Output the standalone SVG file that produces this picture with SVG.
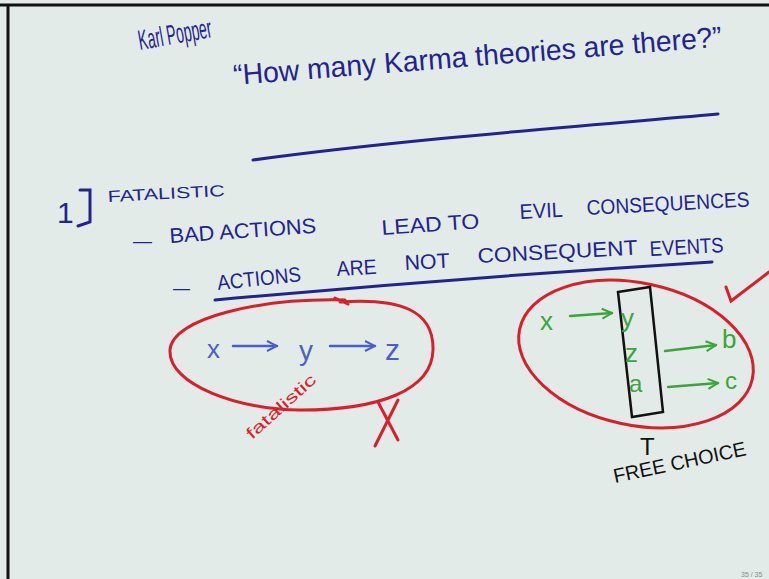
<svg xmlns="http://www.w3.org/2000/svg" width="769" height="579" viewBox="0 0 769 579">
<style>
.ink{font-family:"Liberation Sans","DejaVu Sans",sans-serif;fill:#23238f}
.pt{font-family:"Liberation Sans","DejaVu Sans",sans-serif;fill:#23238f;font-size:21px}
.hw{font-family:"Liberation Sans","DejaVu Sans",sans-serif}
.red{fill:none;stroke:#d91f2b;stroke-width:3;stroke-linecap:round}
.blue{fill:none;stroke:#23238f;stroke-width:3;stroke-linecap:round}
.lb{fill:none;stroke:#4a5ec8;stroke-width:2.5;stroke-linecap:round}
.gr{fill:none;stroke:#3aa53a;stroke-width:2.5;stroke-linecap:round}
</style>
<defs>
<marker id="ab" viewBox="0 0 10 10" refX="9" refY="5" markerWidth="5" markerHeight="5" orient="auto" markerUnits="strokeWidth"><path d="M1 1 L9 5 L1 9" fill="none" stroke="#4a5ec8" stroke-width="1.6"/></marker>
<marker id="ag" viewBox="0 0 10 10" refX="9" refY="5" markerWidth="5" markerHeight="5" orient="auto" markerUnits="strokeWidth"><path d="M1 1 L9 5 L1 9" fill="none" stroke="#3aa53a" stroke-width="1.6"/></marker>
</defs>
<rect x="0" y="0" width="769" height="579" fill="#e2ebe7"/>
<path d="M0 5 H769 M8 5 V579" stroke="#111" stroke-width="3" fill="none"/>

<g id="author"><text class="ink" x="140" y="50" font-size="28" textLength="74" lengthAdjust="spacingAndGlyphs" transform="rotate(-10 140 50)">Karl Popper</text></g>
<g id="title"><text class="ink" x="234" y="85" font-size="29" textLength="490" lengthAdjust="spacingAndGlyphs" transform="rotate(-4.5 234 85)">“How many Karma theories are there?”</text>
<path class="blue" d="M253 160 C400 140 560 128 718 114"/></g>

<g id="heading"><text class="ink" x="57" y="223" font-size="30">1</text><path class="blue" d="M80 190 L90 190 L90 222 L78 226" stroke-width="2.5"/>
<text class="ink" x="108" y="202" font-size="16" textLength="117" lengthAdjust="spacingAndGlyphs" transform="rotate(-3 108 202)">FATALISTIC</text></g>

<g id="point1">
<text class="pt" x="133" y="248" textLength="19" lengthAdjust="spacingAndGlyphs">—</text>
<text class="pt" x="170" y="243" textLength="147" lengthAdjust="spacingAndGlyphs" transform="rotate(-4 170 243)">BAD ACTIONS</text>
<text class="pt" x="382" y="235" textLength="98" lengthAdjust="spacingAndGlyphs" transform="rotate(-4 382 235)">LEAD TO</text>
<text class="pt" x="520" y="219" textLength="43" lengthAdjust="spacingAndGlyphs" transform="rotate(-3 520 219)">EVIL</text>
<text class="pt" x="587" y="215" textLength="163" lengthAdjust="spacingAndGlyphs" transform="rotate(-3 587 215)">CONSEQUENCES</text>
</g>
<g id="point2">
<text class="pt" x="173" y="295" textLength="17" lengthAdjust="spacingAndGlyphs">—</text>
<text class="pt" x="218" y="290" textLength="84" lengthAdjust="spacingAndGlyphs" transform="rotate(-6 218 290)">ACTIONS</text>
<text class="pt" x="337" y="276" textLength="40" lengthAdjust="spacingAndGlyphs" transform="rotate(-3 337 276)">ARE</text>
<text class="pt" x="405" y="270" textLength="45" lengthAdjust="spacingAndGlyphs" transform="rotate(-3 405 270)">NOT</text>
<text class="pt" x="478" y="263" textLength="160" lengthAdjust="spacingAndGlyphs" transform="rotate(-3 478 263)">CONSEQUENT</text>
<text class="pt" x="650" y="256" textLength="74" lengthAdjust="spacingAndGlyphs" transform="rotate(-3 650 256)">EVENTS</text>
<path class="blue" d="M215 300 C380 285 550 272 712 262"/></g>

<g id="fatalistic-loop">
<path class="red" d="M345 300 C260 298 172 318 170 350 C168 385 240 410 300 410 C380 410 432 390 433 350 C434 310 400 298 340 302 M335 298 L348 304"/>
<text class="hw" x="207" y="358" font-size="26" fill="#4a5ec8">x</text>
<text class="hw" x="299" y="360" font-size="28" fill="#4a5ec8">y</text>
<text class="hw" x="385" y="360" font-size="30" fill="#4a5ec8">z</text>
<text class="hw" x="252" y="440" font-size="16" fill="#d91f2b" textLength="88" lengthAdjust="spacingAndGlyphs" transform="rotate(-42 252 440)">fatalistic</text>
<path class="red" d="M378 402 L398 440 M398 400 L375 446"/>
</g>

<g id="freechoice-loop">
<ellipse class="red" cx="636" cy="354" rx="119" ry="71" transform="rotate(12 636 354)"/>
<path d="M618 292 L650 287 L663 412 L632 417 Z" fill="none" stroke="#111" stroke-width="2.5"/>
<text class="hw" x="540" y="330" font-size="26" fill="#3aa53a">x</text>
<text class="hw" x="621" y="327" font-size="26" fill="#3aa53a">y</text>
<text class="hw" x="625" y="362" font-size="26" fill="#3aa53a">z</text>
<text class="hw" x="629" y="392" font-size="24" fill="#3aa53a">a</text>
<text class="hw" x="722" y="348" font-size="26" fill="#3aa53a">b</text>
<text class="hw" x="725" y="389" font-size="24" fill="#3aa53a">c</text>
<path class="red" d="M726 287 L731 301 L769 272"/>
</g>

<g id="free-choice"><text class="hw" x="640" y="455" font-size="24" fill="#111">T</text>
<text class="hw" x="615" y="483" font-size="20" fill="#111" textLength="135" lengthAdjust="spacingAndGlyphs" transform="rotate(-12 615 483)">FREE CHOICE</text></g>

<g id="connectors">
<line class="lb" x1="233" y1="346" x2="277" y2="346" marker-end="url(#ab)"/>
<line class="lb" x1="330" y1="346" x2="375" y2="346" marker-end="url(#ab)"/>
<line class="gr" x1="570" y1="316" x2="612" y2="313" marker-end="url(#ag)"/>
<line class="gr" x1="665" y1="351" x2="716" y2="345" marker-end="url(#ag)"/>
<line class="gr" x1="668" y1="387" x2="718" y2="383" marker-end="url(#ag)"/>
</g>
<text class="hw" x="741" y="577" font-size="7" fill="#888">35 / 35</text>
</svg>
